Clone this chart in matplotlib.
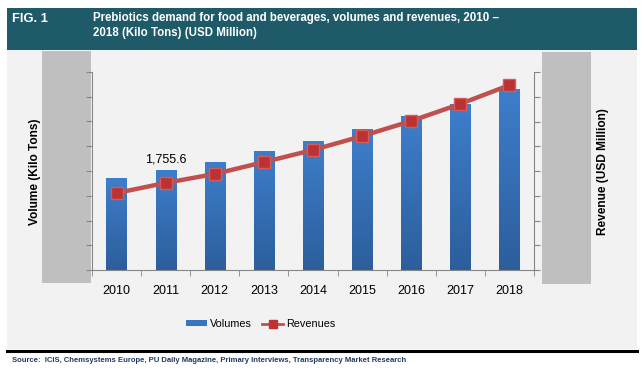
import numpy as np
import matplotlib
matplotlib.use('Agg')
import matplotlib.pyplot as plt
from matplotlib.colors import LinearSegmentedColormap
from matplotlib.patches import Rectangle
from matplotlib.lines import Line2D

plt.rcParams['font.family'] = ['Liberation Sans', 'DejaVu Sans']

# data
years = ['2010', '2011', '2012', '2013', '2014', '2015', '2016', '2017', '2018']
volumes = [1609, 1755.6, 1909, 2086, 2280, 2492, 2705, 2934, 3199]
revenues = [311, 352, 388, 436, 485, 541, 602, 671, 747]
label_year = 1
label_text = '1,755.6'

title_tag = 'FIG. 1'
title = ('Prebiotics demand for food and beverages, volumes and revenues, 2010 \u2013\n'
         '2018 (Kilo Tons) (USD Million)')
source = 'Source:  ICIS, Chemsystems Europe, PU Daily Magazine, Primary Interviews, Transparency Market Research'

W, H = 644, 376
fig = plt.figure(figsize=(W / 100, H / 100), dpi=100)
fig.patch.set_facecolor('white')

def fx(px):
    return px / W

def fy(py):
    return 1 - py / H

# header band and grey panel
for (x0, y1, w, h, c) in [(7, 50, 630, 42, '#1F5A68'), (7, 349, 630, 299, '#F2F2F2'),
                          (42, 283, 49, 232, '#BFBFBF'), (542, 284, 49, 232, '#BFBFBF')]:
    fig.patches.append(Rectangle((fx(x0), fy(y1)), fx(w), h / H, transform=fig.transFigure,
                                 facecolor=c, edgecolor='none', zorder=-5))
fig.lines.append(Line2D([fx(7), fx(637)], [fy(350.5), fy(350.5)], transform=fig.transFigure,
                        color='black', linewidth=2.2, zorder=-5))

fig.text(fx(12), fy(19), title_tag, color='white', fontsize=9.3, fontweight='bold', va='center')
fig.text(fx(93), fy(25.5), title, color='white', fontsize=8.3, fontweight='bold',
         va='center', linespacing=1.35)
fig.text(fx(12), fy(360), source, color='#1F3864', fontsize=5.5, fontweight='bold', va='center')

fig.text(fx(35), fy(172), 'Volume (Kilo Tons)', rotation=90, fontsize=8.6, fontweight='bold',
         ha='center', va='center')
fig.text(fx(603), fy(172), 'Revenue (USD Million)', rotation=90, fontsize=8.6, fontweight='bold',
         ha='center', va='center')

ax = fig.add_axes([fx(92), fy(270), fx(442), 198 / H])
ax.set_facecolor('none')
ax2 = ax.twinx()

x = np.arange(len(years))
bw = 0.41
cmap = LinearSegmentedColormap.from_list('bar', ['#2D5E9C', '#3D7ECB'])
grad = np.linspace(0, 1, 100).reshape(-1, 1)
for xi, v in zip(x, volumes):
    ax.imshow(grad, extent=[xi - bw / 2, xi + bw / 2, 0, v], origin='lower',
              cmap=cmap, aspect='auto', zorder=2)
ax.text(x[label_year], volumes[label_year] + 90, label_text, ha='center', va='bottom', fontsize=9)

ax.set_xlim(-0.5, len(years) - 0.5)
ax.set_ylim(0, 3500)
ax.set_yticks(np.linspace(0, 3500, 9))
ax.set_yticklabels([])
ax.set_xticks(x)
ax.set_xticklabels(years, fontsize=9)
ax.set_xticks(np.arange(-0.5, len(years)), minor=True)
ax.tick_params(axis='x', which='major', length=0, pad=11)
ax.tick_params(axis='x', which='minor', length=4, color='#868686')
ax.tick_params(axis='y', length=4, color='#868686')
for s in ['top', 'right']:
    ax.spines[s].set_visible(False)
for s in ['left', 'bottom']:
    ax.spines[s].set_color('#868686')

ax2.plot(x, revenues, color='#C0504D', linewidth=3.2, marker='s', markersize=9,
         markerfacecolor='#BC3234', markeredgecolor='#D45B5B', markeredgewidth=1, zorder=3)
ax2.set_ylim(0, 800)
ax2.set_yticks(np.linspace(0, 800, 9))
ax2.set_yticklabels([])
ax2.tick_params(axis='y', length=4, color='#868686')
for s in ['top', 'left', 'bottom']:
    ax2.spines[s].set_visible(False)
ax2.spines['right'].set_color('#868686')

handles = [Rectangle((0, 0), 1, 1, facecolor='#3A74BE', edgecolor='none'),
           Line2D([], [], color='#C0504D', linewidth=2, marker='s', markersize=6,
                  markerfacecolor='#BC3234', markeredgecolor='#BC3234')]
leg = fig.legend(handles, ['Volumes', 'Revenues'], loc='center', bbox_to_anchor=(fx(261), fy(324)),
                 ncol=2, frameon=False, fontsize=7.8, handlelength=1.9, handleheight=0.45,
                 handletextpad=0.3, columnspacing=0.95)

fig.savefig('out.png', dpi=100)
